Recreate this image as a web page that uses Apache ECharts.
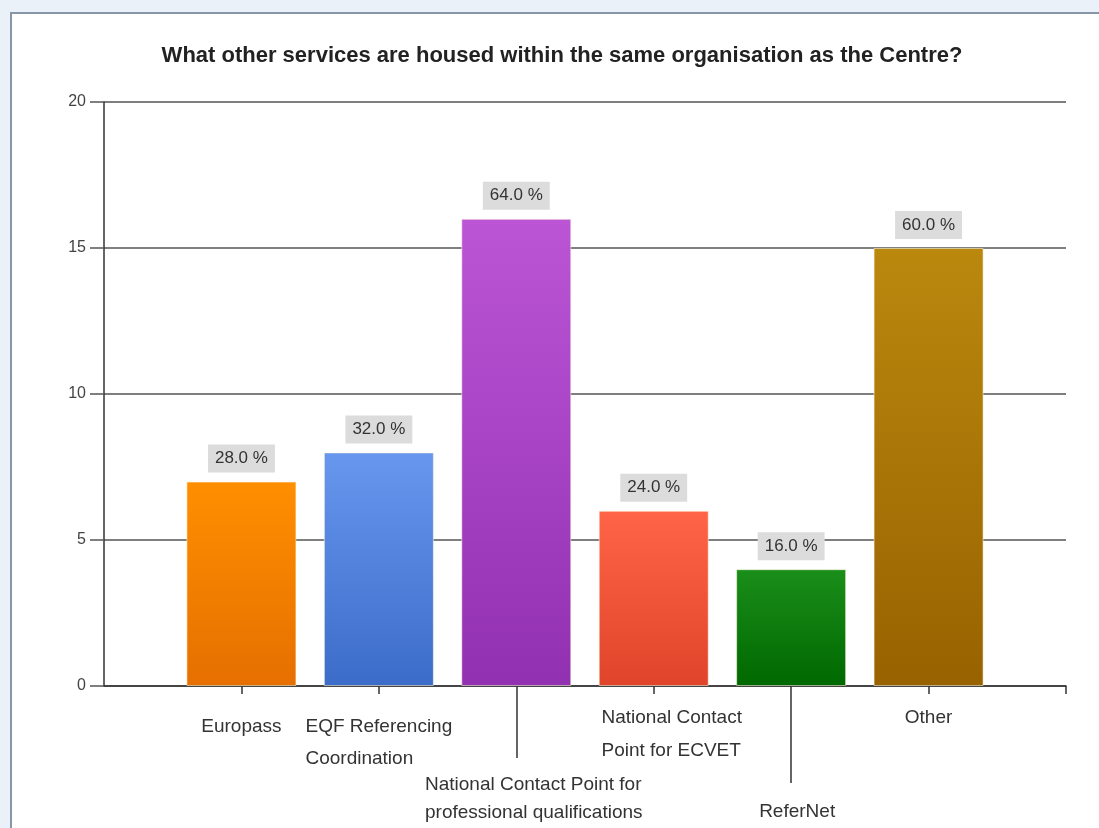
<!DOCTYPE html>
<html>
<head>
<meta charset="utf-8">
<script src="https://cdn.jsdelivr.net/npm/echarts@6/dist/echarts.min.js"></script>
<style>html,body{margin:0;padding:0;background:#fff}#c{width:1099px;height:828px}</style>
</head>
<body>
<div id="c"></div>
<script>
const titleText = 'What other services are housed within the same organisation as the Centre?';
const categories = ['Europass', 'EQF Referencing Coordination', 'National Contact Point for professional qualifications', 'National Contact Point for ECVET', 'ReferNet', 'Other'];
const tickLabels = ['Europass', 'EQF Referencing\nCoordination', 'National Contact Point for\nprofessional qualifications', 'National Contact\nPoint for ECVET', 'ReferNet', 'Other'];
const counts = [7, 8, 16, 6, 4, 15];
const percents = [28.0, 32.0, 64.0, 24.0, 16.0, 60.0];
const yTicks = [0, 5, 10, 15, 20];
const barTop = ['#ff8f00', '#6797ee', '#bb55d6', '#ff6448', '#1a8e1a', '#bb880e'];
const barBottom = ['#e66f00', '#3b6cc9', '#9230b2', '#e0442a', '#006800', '#986200'];

const axisCats = [''].concat(tickLabels, ['']);
const labelFont = "'Liberation Sans', Arial, sans-serif";
const shiftX = [0, 0, 0, 35, 36, 12, 0, 0];

function richFor(lineHeight) {
  const r = {};
  for (let i = 0; i < axisCats.length; i++) {
    r['L' + i] = { align: 'left', fontSize: 19, fontFamily: labelFont, color: '#333', lineHeight: lineHeight, padding: [0, 0, 0, shiftX[i]] };
  }
  return r;
}
function labelAxis(showIdx, margin, lineHeight, tickIdx, tickLen, showLine) {
  return {
    type: 'category', gridIndex: 0, position: 'bottom', data: axisCats, boundaryGap: false,
    axisLine: { show: !!showLine, lineStyle: { color: '#333', width: 1.5 } },
    axisTick: { show: tickIdx !== null, length: tickLen, interval: (i) => tickIdx !== null && tickIdx.indexOf(i) >= 0, lineStyle: { color: '#333', width: 1.5 } },
    axisLabel: {
      show: true, margin: margin, verticalAlign: 'top', align: 'center',
      interval: (i) => showIdx.indexOf(i) >= 0,
      formatter: (v, i) => '{L' + i + '|' + v + '}',
      rich: richFor(lineHeight)
    },
    splitLine: { show: false }
  };
}

const seriesData = [{ value: '-' }];
counts.forEach((c, k) => {
  seriesData.push({
    value: c,
    itemStyle: {
      color: { type: 'linear', x: 0, y: 0, x2: 0, y2: 1, colorStops: [{ offset: 0, color: barTop[k] }, { offset: 1, color: barBottom[k] }] },
      borderColor: 'rgba(255,250,220,0.55)', borderWidth: 1
    }
  });
});
seriesData.push({ value: '-' });

const chart = echarts.init(document.getElementById('c'), null, { renderer: 'canvas' });
chart.setOption({
  backgroundColor: '#eaf1f8',
  animation: false,
  graphic: [{
    type: 'rect', z: -100, silent: true,
    shape: { x: 11, y: 13, width: 1200, height: 1000 },
    style: { fill: '#ffffff', stroke: '#8797a8', lineWidth: 2 }
  }],
  title: {
    text: titleText, left: 557, top: 40, textAlign: 'center',
    textStyle: { fontFamily: "'Liberation Sans', Arial, sans-serif", fontWeight: 'bold', fontSize: 22, color: '#222' }
  },
  grid: { left: 104, right: 33, top: 102, bottom: 142, containLabel: false },
  xAxis: [
    labelAxis([1, 2], 25, 32, [1, 2, 3, 4, 5, 6, 7], 8, true),
    labelAxis([4, 6], 15, 33, null, 0, false),
    labelAxis([3], 85, 28, [3], 72, false),
    labelAxis([5], 112, 28, [5], 97, false)
  ],
  yAxis: {
    type: 'value', min: 0, max: 20, interval: 5,
    axisLine: { show: true, lineStyle: { color: '#333', width: 1.5 } },
    axisTick: { show: true, length: 14, lineStyle: { color: '#555', width: 1.5 } },
    axisLabel: { margin: 18, fontSize: 16, color: '#444', fontFamily: "'Liberation Sans', Arial, sans-serif",
      formatter: (v) => yTicks.indexOf(v) >= 0 ? String(v) : '' },
    splitLine: { show: true, lineStyle: { color: '#555', width: 1.6 } }
  },
  series: [{
    type: 'bar', xAxisIndex: 0, yAxisIndex: 0, barWidth: 110,
    data: seriesData,
    label: {
      show: true, position: 'top', distance: 9,
      formatter: (p) => percents[p.dataIndex - 1].toFixed(1) + ' %',
      fontFamily: labelFont, fontSize: 17, color: '#333', lineHeight: 18,
      backgroundColor: '#dcdcdc', padding: [5, 7]
    }
  }]
});
</script>
</body>
</html>
